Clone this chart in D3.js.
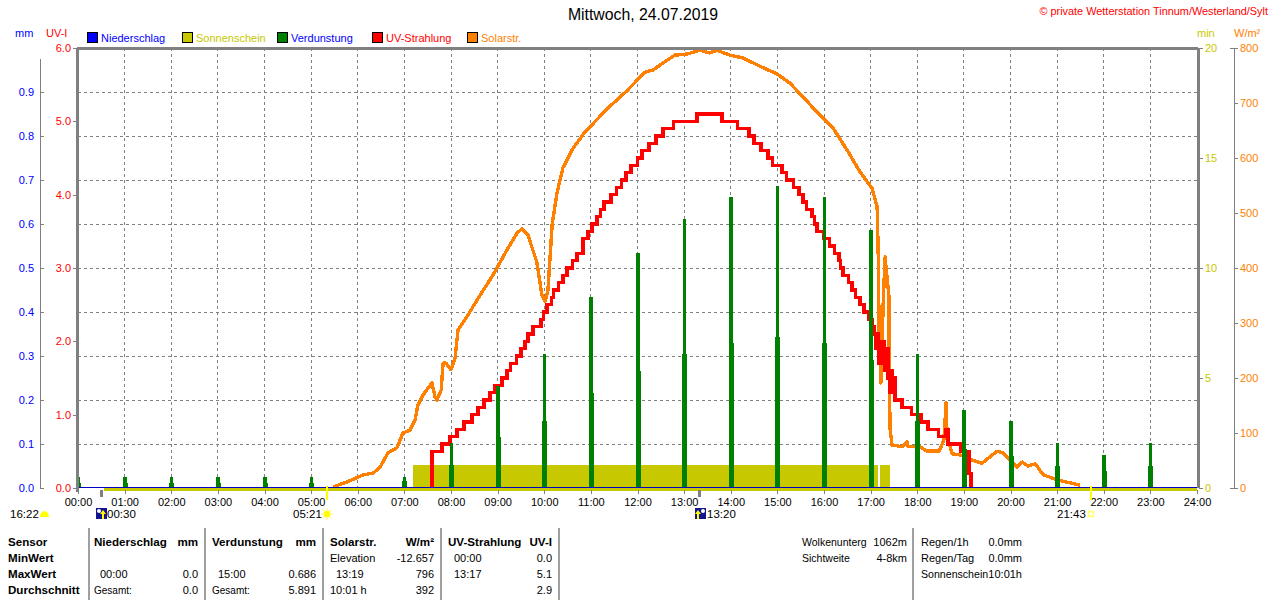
<!DOCTYPE html>
<html><head><meta charset="utf-8">
<script src="https://cdn.jsdelivr.net/npm/d3@7"></script>
<style>
html,body{margin:0;padding:0;background:#fff;overflow:hidden}
svg{display:block}
text{font-family:"Liberation Sans",Arial,sans-serif;font-size:11px}
</style></head><body><svg id="c" width="1280" height="600"></svg>
<script>
const hourLabels=["00:00","01:00","02:00","03:00","04:00","05:00","06:00","07:00","08:00","09:00","10:00","11:00","12:00","13:00","14:00","15:00","16:00","17:00","18:00","19:00","20:00","21:00","22:00","23:00","24:00"];
const mmTicks=[0,0.1,0.2,0.3,0.4,0.5,0.6,0.7,0.8,0.9];
const uvTicks=[0,1,2,3,4,5,6];
const minTicks=[0,5,10,15,20];
const wTicks=[0,100,200,300,400,500,600,700,800];
const legendNames=["Niederschlag","Sonnenschein","Verdunstung","UV-Strahlung","Solarstr."];
const solarHours=[5.47,5.77,6.12,6.33,6.48,6.65,6.84,6.97,7.12,7.23,7.29,7.40,7.59,7.66,7.70,7.79,7.83,7.89,8.00,8.09,8.15,8.34,8.56,8.90,9.20,9.42,9.52,9.65,9.84,9.95,10.02,10.08,10.17,10.27,10.40,10.62,10.87,11.37,11.77,12.16,12.33,12.59,12.80,13.06,13.34,13.55,13.70,13.98,14.26,14.67,14.99,15.27,15.55,15.91,16.19,16.52,16.77,17.03,17.14,17.16,17.17,17.18,17.22,17.27,17.31,17.35,17.39,17.40,17.42,17.46,17.69,17.78,17.80,18.06,18.21,18.47,18.57,18.62,18.64,18.75,18.92,19.17,19.39,19.71,19.84,20.14,20.25,20.38,20.53,20.70,21.00,21.49];
const solarWatts=[2,11,24,27,38,64,73,100,105,124,151,169,191,165,160,178,227,227,215,238,287,311,342,387,433,464,471,460,411,351,340,360,480,535,582,618,647,691,722,756,760,775,787,789,796,791,796,787,782,765,753,736,711,678,655,611,575,545,511,436,396,282,191,336,420,384,351,184,105,78,75,84,76,75,67,67,87,155,93,62,60,51,45,67,64,38,47,40,44,24,15,5];
const uvHours=[7.59,7.59,7.81,7.98,8.13,8.28,8.45,8.58,8.71,8.84,8.94,9.09,9.20,9.27,9.40,9.50,9.59,9.65,9.76,9.93,9.98,10.06,10.16,10.20,10.30,10.40,10.49,10.60,10.70,10.83,10.94,11.02,11.13,11.21,11.28,11.43,11.55,11.66,11.75,11.86,12.00,12.10,12.25,12.40,12.55,12.77,13.28,13.81,14.14,14.39,14.50,14.65,14.80,14.90,15.10,15.20,15.34,15.46,15.55,15.63,15.74,15.79,15.85,16.00,16.12,16.22,16.32,16.36,16.41,16.52,16.60,16.68,16.77,16.86,16.95,17.03,17.07,17.11,17.14,17.17,17.20,17.23,17.26,17.30,17.33,17.37,17.40,17.43,17.46,17.49,17.52,17.67,17.88,18.08,18.23,18.45,18.62,18.66,18.94,19.11,19.15];
const uvValues=[0,0.5,0.6,0.7,0.8,0.9,1.0,1.1,1.2,1.3,1.4,1.5,1.6,1.7,1.8,1.9,2.0,2.1,2.2,2.3,2.4,2.5,2.6,2.7,2.8,2.9,3.0,3.1,3.2,3.4,3.5,3.6,3.7,3.8,3.9,4.0,4.1,4.2,4.3,4.4,4.5,4.6,4.7,4.8,4.9,5.0,5.1,5.0,4.9,4.8,4.7,4.6,4.5,4.4,4.3,4.2,4.1,4.0,3.9,3.8,3.7,3.6,3.5,3.4,3.3,3.2,3.1,3.0,2.9,2.8,2.7,2.6,2.5,2.4,2.3,2.2,2.1,1.9,2.1,1.7,2.0,1.7,2.0,1.6,1.9,1.5,1.3,1.6,1.3,1.5,1.2,1.1,1.0,0.9,0.8,0.7,0.8,0.6,0.5,0.2,0];
const evapHours=[0,1,2,3,4,5,6,7,8,9,10,11,12,13,14,15,16,17,18,19,20,21,22,23];
const evapHours2=[0,1,2,3,4,5,7,8,9,10,11,12,13,14,15,16,17,18,19,20,21,22,23];
const evapTall=[0.026,0.026,0.026,0.026,0.026,0.026,0,0.026,0.102,0.232,0.305,0.434,0.534,0.611,0.661,0.686,0.661,0.586,0.305,0.177,0.152,0.102,0.075,0.102];
const evapShort=[0.012,0.012,0.012,0.012,0.012,0.012,0.015,0.052,0.116,0.152,0.216,0.266,0.305,0.33,0.343,0.33,0.291,0.152,0.089,0.073,0.05,0.039,0.05];
const sunStart=[7.18,17.2];
const sunEnd=[17.15,17.42];
const sunMinutes=[1.05,1.05];
const statRows=["Sensor","MinWert","MaxWert","Durchschnitt"];
const statLeft=[
 ["Niederschlag",null,"00:00","Gesamt:"],
 ["Verdunstung",null,"15:00","Gesamt:"],
 ["Solarstr.","Elevation","13:19","10:01 h"],
 ["UV-Strahlung","00:00","13:17",null]];
const statRight=[
 ["mm",null,"0.0","0.0"],
 ["mm",null,"0.686","5.891"],
 ["W/m²","-12.657","796","392"],
 ["UV-I","0.0","5.1","2.9"]];
const infoLeft=["Wolkenunterg","Sichtweite"];
const infoRight=["1062m","4-8km"];
const rainLeft=["Regen/1h","Regen/Tag","Sonnenschein"];
const rainRight=["0.0mm","0.0mm","10:01h"];

const col={blue:"#0000ff",olive:"#c8c800",green:"#008000",red:"#ff0000",orange:"#ff8000",grid:"#808080"};
const svg=d3.select("#c");
const T=48,B=488,L=78,R=1197;
const x=d3.scaleLinear([0,24],[L,R]);
const yMm=d3.scaleLinear([0,1],[B,T]);
const yUv=d3.scaleLinear([0,6],[B,T]);
const yMin=d3.scaleLinear([0,20],[B,T]);
const yW=d3.scaleLinear([0,800],[B,T]);

// grid
const grid=svg.append("g").attr("stroke",col.grid).attr("stroke-dasharray","3,3").attr("shape-rendering","crispEdges");
grid.selectAll(".h").data(mmTicks.slice(1)).join("line").attr("x1",L).attr("x2",R).attr("y1",d=>yMm(d)).attr("y2",d=>yMm(d));
grid.selectAll(".v").data(d3.range(1,24)).join("line").attr("x1",d=>x(d)).attr("x2",d=>x(d)).attr("y1",T).attr("y2",B);

// sunshine
svg.append("g").attr("fill",col.olive).attr("shape-rendering","crispEdges").selectAll("rect").data(sunStart).join("rect")
 .attr("x",d=>x(d)).attr("width",(d,i)=>x(sunEnd[i])-x(d)).attr("y",(d,i)=>yMin(sunMinutes[i])).attr("height",(d,i)=>B-yMin(sunMinutes[i]));
svg.append("rect").attr("x",x(0.55)).attr("width",R-x(0.55)).attr("y",B).attr("height",3).attr("fill",col.olive).attr("shape-rendering","crispEdges");

// solar + UV
const solarLine=d3.line().x(d=>x(d[0])).y(d=>yW(d[1]));
svg.append("path").attr("d",solarLine(d3.zip(solarHours,solarWatts))).attr("fill","none").attr("stroke",col.orange).attr("stroke-width",3.4).attr("shape-rendering","crispEdges").attr("stroke-linejoin","round");
const uvLine=d3.line().curve(d3.curveStepAfter).x(d=>x(d[0])).y(d=>yUv(d[1]));
svg.append("path").attr("d",uvLine(d3.zip(uvHours,uvValues))).attr("fill","none").attr("stroke",col.red).attr("stroke-width",3.4).attr("shape-rendering","crispEdges");

// evaporation
const ev=svg.append("g").attr("fill",col.green).attr("shape-rendering","crispEdges");
ev.selectAll(".t").data(evapHours).join("rect").attr("x",d=>x(d)-1.5).attr("width",3.5)
 .attr("y",(d,i)=>yMm(evapTall[i])).attr("height",(d,i)=>B-yMm(evapTall[i]));
ev.selectAll(".s").data(evapHours2).join("rect").attr("x",d=>x(d)-2).attr("width",5)
 .attr("y",(d,i)=>yMm(evapShort[i])).attr("height",(d,i)=>B-yMm(evapShort[i]));

// baseline + frame
svg.append("line").attr("x1",L).attr("x2",R).attr("y1",B-.5).attr("y2",B-.5).attr("stroke","#0000c0").attr("stroke-width",1.2);
const fr=svg.append("g").attr("stroke",col.grid).attr("stroke-width",3).attr("shape-rendering","crispEdges");
fr.append("line").attr("x1",L-1).attr("x2",R+1).attr("y1",T).attr("y2",T);
fr.append("line").attr("x1",L-1).attr("x2",L-1).attr("y1",T).attr("y2",B+4);
fr.append("line").attr("x1",R+1).attr("x2",R+1).attr("y1",T).attr("y2",B);

function styleAxis(g,color){
 g.select(".domain").attr("stroke",col.grid);
 g.selectAll(".tick line").attr("stroke",col.grid);
 g.selectAll(".tick text").attr("fill",color).attr("font-size",11.5).attr("font-family",'"Liberation Sans",Arial,sans-serif');
 g.attr("shape-rendering","crispEdges");
}
// mm axis
svg.append("g").attr("transform","translate(40,0)").call(d3.axisRight(yMm).tickValues(mmTicks).tickFormat(d3.format(".1f")).tickSize(4).tickSizeOuter(0))
 .call(g=>{styleAxis(g,col.blue);g.selectAll(".tick text").attr("x",-6).attr("text-anchor","end");g.select(".domain").attr("d","M0.5,59V488.5");});
// UV axis
svg.append("g").attr("transform","translate(77,0)").call(d3.axisLeft(yUv).tickValues(uvTicks).tickFormat(d3.format(".1f")).tickSize(4).tickPadding(2).tickSizeOuter(0))
 .call(g=>{styleAxis(g,col.red);g.select(".domain").remove();});
// min axis
svg.append("g").attr("transform","translate(1199,0)").call(d3.axisRight(yMin).tickValues(minTicks).tickSize(4).tickPadding(2).tickSizeOuter(0))
 .call(g=>{styleAxis(g,col.olive);g.select(".domain").remove();});
// W axis
svg.append("g").attr("transform","translate(1234,0)").call(d3.axisRight(yW).tickValues(wTicks).tickSize(4).tickPadding(2).tickSizeOuter(0))
 .call(g=>{styleAxis(g,col.orange);g.select(".domain").attr("d","M0.5,48V488.5");g.selectAll(".tick").filter(d=>d===0||d===800).select("line").attr("x1",-4);});
// x axis
svg.append("g").attr("transform",`translate(0,${B+2})`).call(d3.axisBottom(x).tickValues(d3.range(0,25)).tickFormat(d=>hourLabels[d]).tickSize(4).tickPadding(4).tickSizeOuter(0))
 .call(g=>{styleAxis(g,"#000");g.select(".domain").remove();});

// header text
function txt(xp,yp,s,c,o={}){return svg.append("text").attr("x",xp).attr("y",yp).attr("fill",c||"#000").attr("text-anchor",o.anchor||"start").attr("font-weight",o.bold?"bold":null).style("font-size",(o.size||11)+"px").text(s);}
txt(643,20,"Mittwoch, 24.07.2019","#000",{anchor:"middle",size:15.8});
txt(1268,15,"© private Wetterstation Tinnum/Westerland/Sylt",col.red,{anchor:"end",size:10.9});
txt(15,37,"mm",col.blue);txt(46,37,"UV-I",col.red);
txt(1197,37,"min",col.olive);txt(1234,37,"W/m²",col.orange);

// legend
const legendCols=[col.blue,col.olive,col.green,col.red,col.orange];
const legendText=[col.blue,col.olive,col.blue,col.red,col.orange];
const lg=svg.append("g").selectAll("g").data(legendNames).join("g").attr("transform",(d,i)=>`translate(${87+95*i},0)`);
lg.append("rect").attr("x",.5).attr("y",32.5).attr("width",10).attr("height",10).attr("fill",(d,i)=>legendCols[i]).attr("stroke","#000").attr("shape-rendering","crispEdges");
lg.append("text").attr("x",14).attr("y",42).attr("fill",(d,i)=>legendText[i]).text(d=>d);

// sun and moon events
const evMarks=[[0.5,col.grid,3],[5.35,"#ffff00",2],[13.33,col.grid,3],[21.72,"#ffff00",2]];
svg.append("g").attr("shape-rendering","crispEdges").selectAll("line").data(evMarks).join("line")
 .attr("x1",d=>x(d[0])).attr("x2",d=>x(d[0])).attr("y1",d=>d[1]===col.grid?490:486).attr("y2",d=>d[1]===col.grid?497:500).attr("stroke",d=>d[1]).attr("stroke-width",d=>d[2]);
txt(10,518,"16:22",null,{size:11.5});txt(107,518,"00:30",null,{size:11.5});txt(293,518,"05:21",null,{size:11.5});txt(707,518,"13:20",null,{size:11.5});txt(1057,518,"21:43",null,{size:11.5});
svg.append("path").attr("d","M40,517A4.5,6 0 0 1 49,517Z").attr("fill","#ffff00");
svg.append("circle").attr("cx",327).attr("cy",514).attr("r",3.5).attr("fill","#ffff00");
svg.append("g").attr("stroke","#ffee66").selectAll("line").data(d3.range(0,360,45)).join("line")
 .attr("x1",d=>327+4*Math.cos(d*Math.PI/180)).attr("y1",d=>514+4*Math.sin(d*Math.PI/180))
 .attr("x2",d=>327+6*Math.cos(d*Math.PI/180)).attr("y2",d=>514+6*Math.sin(d*Math.PI/180));
svg.append("rect").attr("x",1088.5).attr("y",511.5).attr("width",5).attr("height",5).attr("fill","none").attr("stroke","#ffff66").attr("stroke-width",1.5);
[96,695].forEach((ix,k)=>{
 svg.append("rect").attr("x",ix).attr("y",508).attr("width",11).attr("height",11).attr("fill","#14148c");
 svg.append("circle").attr("cx",ix+(k?8:3)).attr("cy",511).attr("r",2).attr("fill","#fff");
 svg.append("path").attr("d",`M${ix+(k?3:7)},510l-3,4h2v5h2v-5h2z`).attr("fill","#ffff00");
});

// table
const rowY=[546,562,578,594];
const tab=svg.append("g");
tab.selectAll("text.r").data(statRows).join("text").attr("x",8).attr("y",(d,i)=>rowY[i]).attr("font-weight","bold").style("font-size","11.6px").text(d=>d);
const colLeft=[94,212,330,448],colRight=[198,316,434,552];
statLeft.forEach((c,ci)=>c.forEach((s,ri)=>{ if(!s)return;
 const isTime=/^\d\d:\d\d$/.test(s);
 txt(colLeft[ci]+(isTime?6:0),rowY[ri],s,"#000",{bold:ri===0,size:ri===0?11.6:(s==="Gesamt:"?10:11)});
}));
statRight.forEach((c,ci)=>c.forEach((s,ri)=>{ if(!s)return;
 txt(colRight[ci],rowY[ri],s,"#000",{anchor:"end",bold:ri===0,size:ri===0?11.6:11});
}));
infoLeft.forEach((s,i)=>{txt(802,rowY[i],s,"#000",{size:10.5});txt(907,rowY[i],infoRight[i],"#000",{anchor:"end",size:11});});
rainLeft.forEach((s,i)=>{txt(921,rowY[i],s,"#000",{size:i===2?10.6:11});txt(1022,rowY[i],rainRight[i],"#000",{anchor:"end"});});
svg.append("g").attr("stroke","#a0a0a0").attr("stroke-width",1.5).attr("shape-rendering","crispEdges").selectAll("line").data([89,205,323,441,559,913]).join("line")
 .attr("x1",d=>d).attr("x2",d=>d).attr("y1",528).attr("y2",600);
</script></body></html>
